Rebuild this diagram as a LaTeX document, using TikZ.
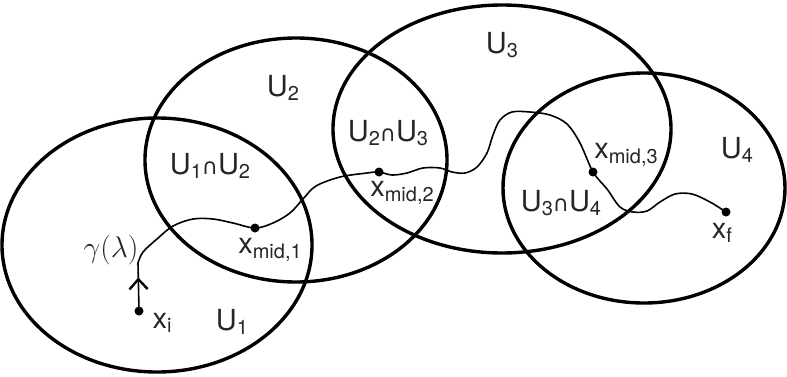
\documentclass[tikz,border=0pt]{standalone}
\usepackage{fontspec}
\setmainfont{TeX Gyre Heros}
\newfontfamily\symfont{DejaVu Sans}
\usetikzlibrary{arrows.meta,decorations.markings}
\newcommand{\lsub}[1]{\raisebox{-0.3ex}{\fontsize{20}{20}\selectfont #1}}
\newcommand{\capsym}{{\symfont\fontsize{22}{22}\selectfont ∩}}
\begin{document}
\begin{tikzpicture}[x=1pt,y=-1pt,
  setline/.style={line width=3.4pt},
  lbl/.style={text=black!85, font=\fontsize{29}{32}\selectfont, inner sep=0pt},
  dot/.style={circle, fill=black, minimum size=9pt, inner sep=0pt},
  curveline/.style={line width=1.6pt},
  arrowmark/.style={postaction={decorate}, decoration={markings, mark=at position 0.7 with {\arrow{Straight Barb[length=10pt,width=18pt,line width=2.4pt]}}}}]
\useasboundingbox (0,0) rectangle (787,376);
% sets
\draw[setline] (157,245) ellipse [x radius=155pt, y radius=127pt];
\draw[setline] (296,160) ellipse [x radius=151pt, y radius=122pt];
\draw[setline] (502,129) ellipse [x radius=169pt, y radius=124pt];
\draw[setline] (644,188) ellipse [x radius=141pt, y radius=115pt];
% points
\node[dot] (xi) at (139,311) {};
\node[dot] (xm1) at (255,228) {};
\node[dot] (xm2) at (379,172) {};
\node[dot] (xm3) at (593,172) {};
\node[dot] (xf) at (726,212) {};
\coordinate (a) at (138,263);
% path
\draw[curveline, arrowmark] (xi.center) -- (a);
\draw[curveline] plot[smooth, tension=0.55] coordinates {
  (a) (143,252) (157,239) (173,226) (193,219) (213,219) (233,223) (xm1.center)
  (273,223) (290,213) (303,199) (316,186) (340,177) (367,173) (xm2.center)
  (392,175) (407,173) (423,168) (440,168) (452,172) (465,173) (477,167)
  (487,153) (493,135) (500,120) (512,112) (530,112) (550,115) (567,124)
  (580,143) (xm3.center) (607,189) (620,207) (633,212) (647,211) (660,202)
  (675,194) (692,194) (710,202) (xf.center)};
% labels
\node[lbl] (lU1) at (232,322) {U\lsub{1}};
\node[lbl] (lU2) at (283,88) {U\lsub{2}};
\node[lbl] (lU3) at (502,45) {U\lsub{3}};
\node[lbl] (lU4) at (737,150) {U\lsub{4}};
\node[lbl] (lU12) at (210,166) {U\lsub{1}\capsym U\lsub{2}};
\node[lbl] (lU23) at (388,133) {U\lsub{2}\capsym U\lsub{3}};
\node[lbl] (lU34) at (561,203) {U\lsub{3}\capsym U\lsub{4}};
\node[lbl] (lg) at (111,250) {\scalebox{1.2}{$\gamma(\lambda)$}};
\node[lbl] (lxi) at (162,323) {x\lsub{i}};
\node[lbl] (lx1) at (270,250) {x\lsub{mid,1}};
\node[lbl] (lx2) at (402,193) {x\lsub{mid,2}};
\node[lbl] (lx3) at (626,155) {x\lsub{mid,3}};
\node[lbl] (lxf) at (722,233) {x\lsub{f}};
\end{tikzpicture}
\end{document}
